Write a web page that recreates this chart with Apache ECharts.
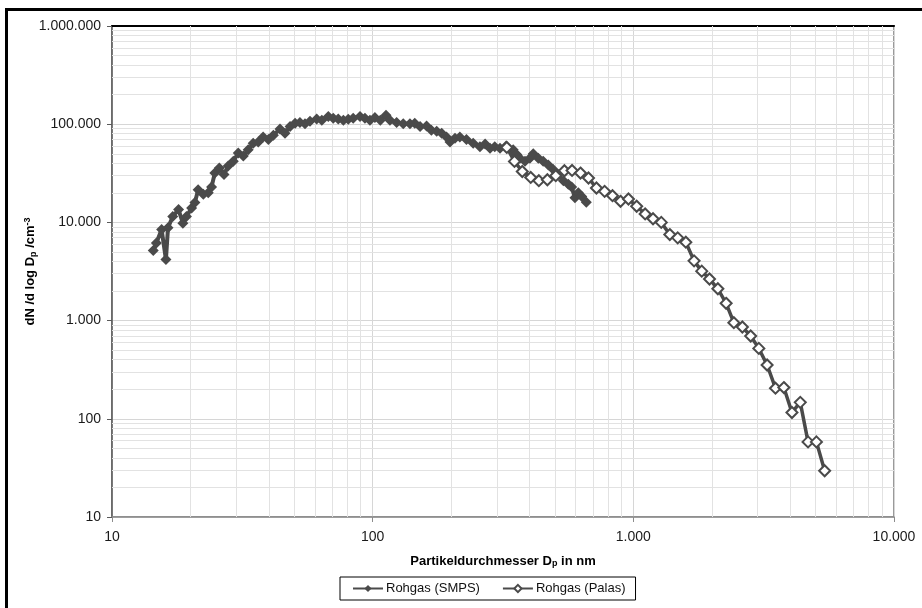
<!DOCTYPE html>
<html>
<head>
<meta charset="utf-8">
<script src="https://cdn.jsdelivr.net/npm/echarts@6/dist/echarts.min.js"></script>
<style>
  html, body { margin: 0; padding: 0; background: #fff; }
  #wrap { position: relative; width: 922px; height: 608px; overflow: hidden; }
  #chart { width: 922px; height: 608px; }
  #frame { position: absolute; left: 5px; top: 8px; width: 1000px; height: 700px;
           border: 3px solid #000; pointer-events: none; }
</style>
</head>
<body>
<div id="wrap">
  <div id="chart"></div>
  <div id="frame"></div>
</div>
<script>
// Particle size distribution, raw gas: SMPS vs Palas, log-log.
// Values.

const smpsDiameter = [
  14.4, 14.8, 15.5, 16.1, 16.4, 17.1, 18.0, 18.7, 19.3, 20.2,
  20.8, 21.4, 22.4, 23.4, 24.1, 24.8, 25.8, 26.9, 27.9, 29.2,
  30.5, 31.9, 33.3, 34.8, 36.4, 38.0, 39.8, 41.6, 44.1, 46.1,
  48.2, 50.4, 52.6, 55.0, 57.5, 61.0, 63.8, 67.6, 70.6, 73.8,
  77.2, 80.6, 84.2, 89.4, 93.4, 97.6, 102, 107, 112.5, 116.5,
  123.6, 131, 139, 145, 152, 161, 168, 176, 184, 192,
  198, 207, 216, 229, 243, 258, 270, 282, 294, 308,
  325, 346, 357, 367, 384, 401, 413, 432, 451, 472,
  493, 515, 539, 563, 580, 597, 615, 634, 660
];
const smpsConc = [
  5170, 6170, 8450, 4190, 8800, 11500, 13500, 9800, 11500, 14000,
  15900, 21500, 19400, 20100, 23000, 31800, 35800, 30700, 37500, 42000,
  51000, 47500, 54800, 63800, 66000, 74000, 70000, 77400, 89500, 81000,
  95000, 102000, 104000, 101000, 107000, 113000, 110000, 120000, 115000, 113000,
  110000, 112000, 115000, 120000, 115000, 110000, 117000, 110000, 123000, 110000,
  104000, 101000, 101000, 102000, 95000, 96000, 87000, 85000, 81000, 74000,
  66000, 72000, 74000, 70000, 64000, 59000, 63000, 57000, 59000, 57000,
  60000, 55000, 49000, 45000, 42000, 45000, 50000, 45000, 42000, 38500,
  34500, 30700, 26500, 24500, 23000, 17800, 20000, 18400, 16000
];

const palasDiameter = [
  327, 350, 375, 404, 434, 468, 504, 544, 582, 627,
  673, 722, 776, 832, 893, 958, 1030, 1110, 1190, 1280,
  1380, 1480, 1590, 1710, 1830, 1960, 2110, 2270, 2430, 2620,
  2820, 3030, 3260, 3510, 3780, 4060, 4370, 4680, 5040, 5420
];
const palasConc = [
  58000, 41800, 33000, 28700, 26600, 27200, 29900, 33600, 33800, 31800,
  28300, 22400, 20700, 18700, 16400, 17300, 14600, 12200, 10900, 10000,
  7520, 6960, 6290, 4060, 3190, 2650, 2110, 1500, 952, 860,
  697, 521, 353, 205, 208, 116, 147, 58.2, 58.2, 29.6
];

const seriesNames = ['Rohgas (SMPS)', 'Rohgas (Palas)'];
const xRange = [10, 10000];
const yRange = [10, 1000000];
const xTitle = 'Partikeldurchmesser D{sub|p} in nm';
const yTitle = 'dN /d log D{sub|p} /cm{sup|-3}';

// log minor grid positions 2..9 per decade
function minorSteps(lo, hi) {
  const out = [];
  for (let d = lo; d < hi; d *= 10) {
    for (let m = 2; m <= 9; m++) out.push(d * m);
  }
  return out;
}
const xMinor = minorSteps(xRange[0], xRange[1]);
const yMinor = minorSteps(yRange[0], yRange[1]);

function de(v) {
  return String(Math.round(v)).replace(/\B(?=(\d{3})+(?!\d))/g, '.');
}

const FONT = '"Liberation Sans", Arial, sans-serif';
const INK = '#4a4a4a';

const chart = echarts.init(document.getElementById('chart'), null, { renderer: 'canvas' });

const subRich = {
  sub: { fontSize: 9, fontWeight: 'bold', fontFamily: FONT, color: '#000', verticalAlign: 'bottom', padding: [4, 0, 0, 0] },
  sup: { fontSize: 9, fontWeight: 'bold', fontFamily: FONT, color: '#000', verticalAlign: 'top', padding: [0, 0, 6, 0] },
};

chart.setOption({
  animation: false,
  backgroundColor: '#fff',
  textStyle: { fontFamily: FONT },
  grid: {
    left: 112, right: 28, top: 26, bottom: 91,
    show: true, borderColor: '#9a9a9a', borderWidth: 2,
  },
  legend: {
    data: seriesNames,
    left: 340,
    top: 577,
    orient: 'horizontal',
    borderColor: '#000',
    borderWidth: 1,
    borderRadius: 0,
    padding: [5, 10, 5, 12],
    itemGap: 22,
    itemWidth: 30,
    itemHeight: 9,
    textStyle: { fontSize: 13, color: '#111', fontFamily: FONT, padding: [0, 0, 0, -2] },
  },
  xAxis: [
    {
      type: 'log', logBase: 10, min: xRange[0], max: xRange[1],
      position: 'bottom',
      name: xTitle,
      nameLocation: 'middle',
      nameMoveOverlap: false,
      nameGap: 38,
      nameTextStyle: { fontSize: 13, fontWeight: 'bold', color: '#000', fontFamily: FONT, rich: subRich },
      axisLine: { show: true, lineStyle: { color: '#8c8c8c', width: 1.5 } },
      axisTick: { show: true, inside: false, length: 5, lineStyle: { color: '#8c8c8c' } },
      axisLabel: { fontSize: 14, color: '#1a1a1a', margin: 13, formatter: de },
      splitLine: { show: true, lineStyle: { color: '#d6d6d6', width: 1 } },
    },
    {
      type: 'log', logBase: 10, min: xRange[0], max: xRange[1],
      position: 'top',
      axisLine: { show: true, lineStyle: { color: '#000', width: 2 } },
      axisTick: { show: false },
      axisLabel: { show: false },
      splitLine: { show: false },
    },
  ],
  yAxis: {
    type: 'log', logBase: 10, min: yRange[0], max: yRange[1],
    name: yTitle,
    nameLocation: 'middle',
    nameMoveOverlap: false,
    nameRotate: 90,
    nameGap: 74,
    nameTextStyle: { fontSize: 13, fontWeight: 'bold', color: '#000', fontFamily: FONT, rich: subRich },
    axisLine: { show: true, lineStyle: { color: '#5a5a5a', width: 1.5 } },
    axisTick: { show: true, inside: false, length: 5, lineStyle: { color: '#5a5a5a' } },
    axisLabel: { fontSize: 14, color: '#1a1a1a', margin: 11, formatter: de },
    splitLine: { show: true, lineStyle: { color: '#d6d6d6', width: 1 } },
  },
  series: [
    {
      name: seriesNames[0],
      type: 'line',
      data: smpsDiameter.map((d, i) => [d, smpsConc[i]]),
      symbol: 'diamond',
      symbolSize: 11,
      itemStyle: { color: INK },
      lineStyle: { color: INK, width: 4 },
      z: 3,
      markLine: {
        silent: true,
        symbol: 'none',
        z: 1,
        label: { show: false },
        emphasis: { disabled: true },
        lineStyle: { color: '#e2e2e2', width: 1, type: 'solid' },
        data: xMinor.map((v) => ({ xAxis: v })).concat(yMinor.map((v) => ({ yAxis: v }))),
      },
    },
    {
      name: seriesNames[1],
      type: 'line',
      data: palasDiameter.map((d, i) => [d, palasConc[i]]),
      symbol: 'diamond',
      symbolSize: 11,
      itemStyle: { color: '#fff', borderColor: INK, borderWidth: 2 },
      lineStyle: { color: INK, width: 3.5 },
      z: 4,
    },
  ],
});
</script>
</body>
</html>
